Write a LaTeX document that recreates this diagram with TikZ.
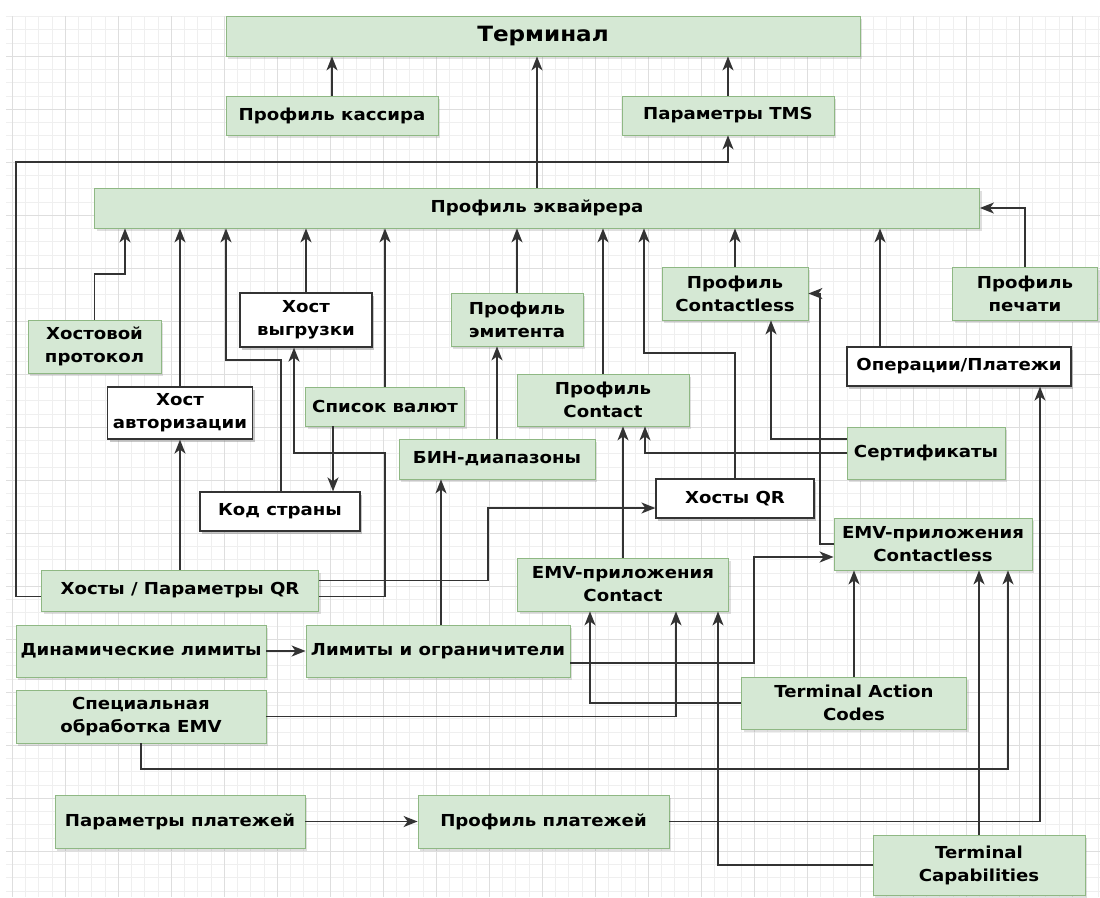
\documentclass[tikz,border=0pt]{standalone}
\usepackage{fontspec}
\setmainfont{DejaVu Sans}[FakeStretch=1.1]
\usepackage{tikz}
\usetikzlibrary{arrows.meta}
\usetikzlibrary{calc}
\usetikzlibrary{shadows}
\definecolor{boxgreen}{HTML}{D5E8D4}
\definecolor{boxline}{HTML}{8FB884}
\definecolor{wire}{HTML}{333333}
\definecolor{gridminor}{HTML}{EFEFEF}
\definecolor{gridmajor}{HTML}{DEDEDE}

\begin{document}
\begin{tikzpicture}[x=1pt,y=-1pt,
	gbox/.style={rectangle,draw=boxline,fill=boxgreen,line width=0.8pt,
		drop shadow={shadow xshift=2pt,shadow yshift=-2.5pt,opacity=0.25},
		align=center,inner sep=1pt,font=\bfseries\fontsize{16.5}{23}\selectfont},
	wbox/.style={gbox,draw=wire,fill=white,line width=1.2pt},
	conn/.style={->,draw=wire,line width=1.8pt}]
	\useasboundingbox (0,0) rectangle (1100,897);

	% background grid
	\foreach \k in {0,...,82} {
		\pgfmathsetmacro\gx{12+13.25*\k}
		\draw[gridminor] (\gx,16) -- (\gx,897);
	}
	\foreach \k in {0,...,66} {
		\pgfmathsetmacro\gy{16.25+13.25*\k}
		\draw[gridminor] (6,\gy) -- (1100,\gy);
	}
	\foreach \k in {0,...,20} {
		\pgfmathsetmacro\gx{12+53*\k}
		\draw[gridmajor] (\gx,16) -- (\gx,897);
	}
	\foreach \k in {0,...,16} {
		\pgfmathsetmacro\gy{56+53*\k}
		\draw[gridmajor] (6,\gy) -- (1100,\gy);
	}

	\begin{scope}[every node/.append style={gbox}]
		\node[minimum width=634pt,minimum height=40pt,font=\bfseries\fontsize{21}{24}\selectfont] (term) at (543,36) {Терминал};
		\node[minimum width=212pt,minimum height=39pt] (kass) at (332,115.5) {Профиль кассира};
		\node[minimum width=212pt,minimum height=39pt] (tms) at (728,115.5) {Параметры TMS};
		\node[minimum width=885pt,minimum height=40pt] (acq) at (537,208) {Профиль эквайрера};
		\node[minimum width=133pt,minimum height=53pt] (hproto) at (94.5,346.5) {Хостовой\\протокол};
		\node[wbox,minimum width=132pt,minimum height=54pt] (hvyg) at (306,320) {Хост\\выгрузки};
		\node[minimum width=132pt,minimum height=53pt] (emit) at (517,319.5) {Профиль\\эмитента};
		\node[minimum width=146pt,minimum height=53pt] (pcl) at (735,293.5) {Профиль\\Contactless};
		\node[minimum width=145pt,minimum height=53pt] (pech) at (1025,293.5) {Профиль\\печати};
		\node[wbox,minimum width=145pt,minimum height=52pt] (hauth) at (180,413) {Хост\\авторизации};
		\node[minimum width=159pt,minimum height=39pt] (cur) at (385,406.5) {Список валют};
		\node[minimum width=172pt,minimum height=52pt] (pct) at (603,400) {Профиль\\Contact};
		\node[wbox,minimum width=224pt,minimum height=39pt] (ops) at (959,366.5) {Операции/Платежи};
		\node[minimum width=196pt,minimum height=40pt] (bin) at (497,459) {БИН-диапазоны};
		\node[minimum width=158pt,minimum height=52pt] (cert) at (926,453) {Сертификаты};
		\node[wbox,minimum width=160pt,minimum height=39pt] (country) at (280,511.5) {Код страны};
		\node[wbox,minimum width=158pt,minimum height=39pt] (hqr) at (735,498.5) {Хосты QR};
		\node[minimum width=198pt,minimum height=52pt] (emvcl) at (933,544) {EMV-приложения\\Contactless};
		\node[minimum width=277pt,minimum height=41pt] (hpqr) at (180,590.5) {Хосты / Параметры QR};
		\node[minimum width=211pt,minimum height=53pt] (emvct) at (623,584.5) {EMV-приложения\\Contact};
		\node[minimum width=250pt,minimum height=52pt] (dyn) at (141,651) {Динамические лимиты};
		\node[minimum width=264pt,minimum height=52pt] (lim) at (438,651) {Лимиты и ограничители};
		\node[minimum width=250pt,minimum height=53pt] (spec) at (141,716.5) {Специальная\\обработка EMV};
		\node[minimum width=225pt,minimum height=52pt] (tac) at (854,703) {Terminal Action\\Codes};
		\node[minimum width=250pt,minimum height=53pt] (ppar) at (180,821.5) {Параметры платежей};
		\node[minimum width=251pt,minimum height=53pt] (ppro) at (543.5,821.5) {Профиль платежей};
		\node[minimum width=212pt,minimum height=60pt] (tcap) at (979,865) {Terminal\\Capabilities};
	\end{scope}

	\begin{scope}[>={Stealth[length=14pt,width=11pt,inset=4pt]}]
		% up to the terminal
		\draw[conn] (kass.north) -- (kass.north |- term.south);
		\draw[conn] (tms.north) -- (tms.north |- term.south);
		\draw[conn] (acq.north) -- (acq.north |- term.south);
		\coordinate (ltop) at (16,162);
		\draw[conn] ($(hpqr.west)+(0,6)$) -| (ltop) -| (tms.south);

		% into the acquirer profile
		\coordinate (k1) at (125,274);
		\draw[conn] (hproto.north) |- (k1) -- (k1 |- acq.south);
		\draw[conn] (hauth.north) -- (hauth.north |- acq.south);
		\coordinate (k2) at (226,360);
		\draw[conn] ($(country.north)+(1,0)$) |- (k2) -- (k2 |- acq.south);
		\draw[conn] (hvyg.north) -- (hvyg.north |- acq.south);
		\draw[conn] (cur.north) -- (cur.north |- acq.south);
		\draw[conn] (emit.north) -- (emit.north |- acq.south);
		\draw[conn] (pct.north) -- (pct.north |- acq.south);
		\coordinate (k3) at (644,353);
		\draw[conn] (hqr.north) |- (k3) -- (k3 |- acq.south);
		\draw[conn] (pcl.north) -- (pcl.north |- acq.south);
		\draw[conn] ($(ops.north)+(-79,0)$) -- ($(acq.south)+(343,0)$);
		\draw[conn] (pech.north) |- (acq.east);

		% hosts and QR parameters
		\draw[conn] (hpqr.north) -- (hauth.south);
		\coordinate (k5) at (385,453);
		\draw[conn] ($(hpqr.east)+(0,6)$) -| (k5) -| ($(hvyg.south)+(-12,0)$);
		\coordinate (k6) at (488,508);
		\draw[conn] ($(hpqr.east)+(0,-10)$) -| (k6) -- ($(hqr.west)+(0,9.5)$);
		\draw[conn] ($(cur.south)+(-52,0)$) -- ($(country.north)+(53,0)$);
		\draw[conn] (bin.north) -- (bin.north |- emit.south);
		\draw[conn] ($(lim.north)+(3,0)$) -- ($(bin.south)+(-56,0)$);
		\draw[conn] (emvct.north) -- (emvct.north |- pct.south);

		% certificates
		\draw[conn] ($(cert.west)+(0,-14)$) -| ($(pcl.south)+(36,0)$);
		\draw[conn] (cert.west) -| ($(pct.south)+(42,0)$);
		\coordinate (k7) at (820,293.5);
		\draw[conn] (emvcl.west) -| (k7) -- (pcl.east);

		% limits, EMV and payments
		\draw[conn] (dyn) -- (lim);
		\coordinate (k8) at (754,557);
		\draw[conn] ($(lim.east)+(0,12)$) -| (k8) -- ($(emvcl.west)+(0,13)$);
		\draw[conn] (spec.east) -| ($(emvct.south)+(53,0)$);
		\coordinate (k9) at (1008,769);
		\draw[conn] (spec.south) |- (k9) -- ($(emvcl.south)+(75,0)$);
		\draw[conn] (tac.north) -- (tac.north |- emvcl.south);
		\draw[conn] (tac.west) -| ($(emvct.south)+(-33,0)$);
		\draw[conn] (ppar) -- (ppro);
		\draw[conn] (ppro.east) -| ($(ops.south)+(81,0)$);
		\draw[conn] (tcap.north) -- (tcap.north |- emvcl.south);
		\draw[conn] (tcap.west) -| ($(emvct.south)+(95,0)$);
	\end{scope}
\end{tikzpicture}
\end{document}
